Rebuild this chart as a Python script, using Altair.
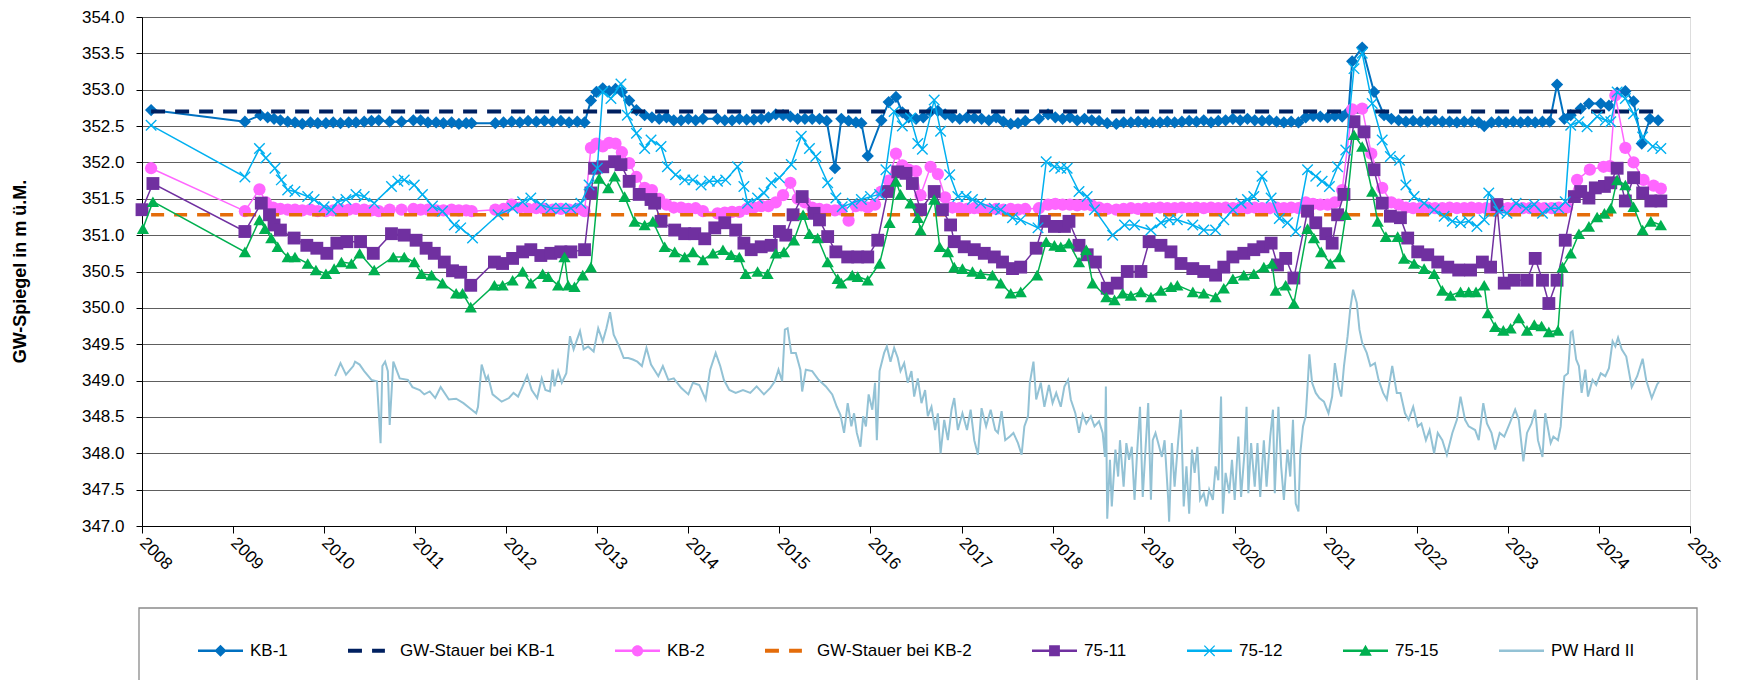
import altair as alt
import pandas as pd

# ---------------- data ----------------
SERIES_NAMES = ["KB-1", "GW-Stauer bei KB-1", "KB-2", "GW-Stauer bei KB-2",
                "75-11", "75-12", "75-15", "PW Hard II"]
SERIES_COLORS = ["#0070C0", "#002060", "#FF66FF", "#E46C0A",
                 "#7030A0", "#00B0F0", "#00B050", "#93C2D5"]
YEAR_TICKS = list(range(2008, 2026))
LEVEL_TICKS = [347.0, 347.5, 348.0, 348.5, 349.0, 349.5, 350.0, 350.5,
               351.0, 351.5, 352.0, 352.5, 353.0, 353.5, 354.0]

KB1_YEAR = [2008.10, 2009.13, 2009.30, 2009.38, 2009.45, 2009.52, 2009.60, 2009.68, 2009.76, 2009.85,
            2009.93, 2010.02, 2010.10, 2010.18, 2010.27, 2010.35, 2010.44, 2010.52, 2010.60, 2010.72,
            2010.85, 2010.98, 2011.06, 2011.14, 2011.23, 2011.31, 2011.40, 2011.48, 2011.56, 2011.62,
            2011.88, 2011.97, 2012.06, 2012.15, 2012.24, 2012.33, 2012.42, 2012.51, 2012.60, 2012.69,
            2012.78, 2012.86, 2012.93, 2012.99, 2013.06, 2013.13, 2013.20, 2013.27, 2013.35, 2013.43,
            2013.52, 2013.60, 2013.68, 2013.76, 2013.84, 2013.92, 2014.00, 2014.08, 2014.16, 2014.32,
            2014.40, 2014.48, 2014.56, 2014.64, 2014.72, 2014.80, 2014.88, 2014.96, 2015.04, 2015.12,
            2015.20, 2015.28, 2015.36, 2015.44, 2015.52, 2015.61, 2015.68, 2015.76, 2015.84, 2015.90,
            2015.97, 2016.12, 2016.20, 2016.28, 2016.35, 2016.42, 2016.50, 2016.58, 2016.66, 2016.74,
            2016.82, 2016.90, 2016.98, 2017.06, 2017.14, 2017.22, 2017.30, 2017.38, 2017.46, 2017.54,
            2017.62, 2017.70, 2017.85, 2017.95, 2018.03, 2018.11, 2018.19, 2018.27, 2018.35, 2018.43,
            2018.51, 2018.60, 2018.70, 2018.78, 2018.86, 2018.94, 2019.02, 2019.10, 2019.18, 2019.26,
            2019.34, 2019.42, 2019.50, 2019.58, 2019.66, 2019.74, 2019.82, 2019.90, 2019.98, 2020.06,
            2020.14, 2020.22, 2020.30, 2020.38, 2020.46, 2020.54, 2020.62, 2020.70, 2020.78, 2020.86,
            2020.94, 2021.02, 2021.10, 2021.18, 2021.25, 2021.29, 2021.40, 2021.53, 2021.64, 2021.72,
            2021.80, 2021.88, 2021.96, 2022.04, 2022.12, 2022.20, 2022.28, 2022.36, 2022.44, 2022.52,
            2022.60, 2022.68, 2022.74, 2022.82, 2022.90, 2022.98, 2023.06, 2023.14, 2023.22, 2023.30,
            2023.38, 2023.46, 2023.54, 2023.62, 2023.69, 2023.80, 2023.89, 2024.02, 2024.11, 2024.20,
            2024.29, 2024.38, 2024.47, 2024.56, 2024.65]
KB1_VAL = [352.72, 352.56, 352.65, 352.62, 352.60, 352.58, 352.56, 352.55, 352.53, 352.55,
           352.54, 352.54, 352.55, 352.54, 352.55, 352.55, 352.56, 352.57, 352.58, 352.56,
           352.56, 352.58, 352.58, 352.55, 352.55, 352.54, 352.55, 352.53, 352.54, 352.54,
           352.54, 352.55, 352.56, 352.55, 352.57, 352.56, 352.57, 352.56, 352.57, 352.55,
           352.56, 352.55, 352.85, 352.97, 353.02, 352.98, 353.01, 352.97, 352.85, 352.72,
           352.65, 352.62, 352.60, 352.62, 352.58, 352.58, 352.60, 352.58, 352.60, 352.60,
           352.58, 352.58, 352.60, 352.59, 352.59, 352.60, 352.62, 352.66, 352.65, 352.63,
           352.60, 352.60, 352.60, 352.60, 352.57, 351.92, 352.60, 352.57, 352.55, 352.54,
           352.09, 352.58, 352.83, 352.90, 352.69, 352.62, 352.60, 352.62, 352.70, 352.71,
           352.66, 352.62, 352.60, 352.62, 352.61, 352.60, 352.58, 352.62, 352.56, 352.53,
           352.54, 352.57, 352.60, 352.66, 352.62, 352.60, 352.62, 352.58, 352.60, 352.58,
           352.57, 352.54, 352.53, 352.55, 352.55, 352.56, 352.55, 352.55, 352.55, 352.56,
           352.55, 352.56, 352.57, 352.56, 352.58, 352.55, 352.57, 352.58, 352.60, 352.58,
           352.60, 352.58, 352.57, 352.58, 352.56, 352.55, 352.56, 352.55, 352.62, 352.64,
           352.63, 352.62, 352.64, 352.63, 352.70, 353.39, 353.58, 352.97, 352.65, 352.60,
           352.58, 352.56, 352.57, 352.56, 352.56, 352.57, 352.56, 352.56, 352.55, 352.56,
           352.56, 352.55, 352.50, 352.55, 352.56, 352.55, 352.56, 352.55, 352.56, 352.55,
           352.56, 352.56, 353.07, 352.60, 352.65, 352.74, 352.81, 352.81, 352.78, 352.96,
           352.98, 352.84, 352.26, 352.60, 352.58]

KB2_YEAR = [2008.10, 2009.13, 2009.29, 2009.36, 2009.44, 2009.52, 2009.60, 2009.68, 2009.76, 2009.85,
            2009.93, 2010.02, 2010.10, 2010.18, 2010.27, 2010.35, 2010.44, 2010.52, 2010.60, 2010.72,
            2010.85, 2010.98, 2011.06, 2011.14, 2011.23, 2011.31, 2011.40, 2011.48, 2011.56, 2011.62,
            2011.88, 2011.97, 2012.06, 2012.15, 2012.24, 2012.33, 2012.42, 2012.51, 2012.60, 2012.69,
            2012.78, 2012.86, 2012.93, 2012.99, 2013.06, 2013.13, 2013.20, 2013.27, 2013.35, 2013.43,
            2013.52, 2013.60, 2013.68, 2013.76, 2013.84, 2013.92, 2014.00, 2014.08, 2014.16, 2014.32,
            2014.40, 2014.48, 2014.56, 2014.64, 2014.72, 2014.80, 2014.88, 2014.96, 2015.04, 2015.12,
            2015.20, 2015.28, 2015.36, 2015.44, 2015.52, 2015.61, 2015.68, 2015.76, 2015.84, 2015.90,
            2015.97, 2016.05, 2016.12, 2016.20, 2016.28, 2016.35, 2016.42, 2016.50, 2016.55, 2016.66,
            2016.74, 2016.82, 2016.90, 2016.98, 2017.06, 2017.14, 2017.22, 2017.30, 2017.38, 2017.46,
            2017.54, 2017.62, 2017.70, 2017.85, 2017.95, 2018.03, 2018.11, 2018.19, 2018.27, 2018.35,
            2018.43, 2018.51, 2018.60, 2018.70, 2018.78, 2018.86, 2018.94, 2019.02, 2019.10, 2019.18,
            2019.26, 2019.34, 2019.42, 2019.50, 2019.58, 2019.66, 2019.74, 2019.82, 2019.90, 2019.98,
            2020.06, 2020.14, 2020.22, 2020.30, 2020.38, 2020.46, 2020.54, 2020.62, 2020.70, 2020.78,
            2020.86, 2020.94, 2021.02, 2021.10, 2021.18, 2021.29, 2021.40, 2021.50, 2021.62, 2021.72,
            2021.80, 2021.88, 2021.96, 2022.04, 2022.12, 2022.20, 2022.28, 2022.36, 2022.44, 2022.52,
            2022.60, 2022.68, 2022.76, 2022.84, 2022.92, 2023.00, 2023.08, 2023.16, 2023.24, 2023.32,
            2023.40, 2023.48, 2023.56, 2023.65, 2023.76, 2023.90, 2024.05, 2024.12, 2024.18, 2024.29,
            2024.38, 2024.49, 2024.60, 2024.68]
KB2_VAL = [351.92, 351.33, 351.63, 351.45, 351.38, 351.36, 351.35, 351.35, 351.34, 351.35,
           351.33, 351.33, 351.34, 351.35, 351.35, 351.36, 351.35, 351.34, 351.33, 351.35,
           351.35, 351.36, 351.35, 351.35, 351.34, 351.34, 351.35, 351.34, 351.34, 351.33,
           351.35, 351.36, 351.42, 351.38, 351.36, 351.37, 351.36, 351.35, 351.36, 351.35,
           351.36, 351.33, 352.20, 352.26, 352.22, 352.27, 352.26, 352.14, 351.99, 351.80,
           351.65, 351.62, 351.50, 351.42, 351.38, 351.38, 351.36, 351.37, 351.33, 351.30,
           351.31, 351.32, 351.32, 351.36, 351.38, 351.40, 351.40, 351.45, 351.55, 351.72,
           351.50, 351.45, 351.38, 351.36, 351.35, 351.34, 351.35, 351.20, 351.40, 351.41,
           351.38, 351.42, 351.60, 351.75, 352.12, 351.96, 351.90, 351.88, 351.55, 351.94,
           351.84, 351.52, 351.38, 351.37, 351.36, 351.37, 351.36, 351.35, 351.36, 351.35,
           351.36, 351.35, 351.36, 351.37, 351.42, 351.43, 351.42, 351.42, 351.41, 351.42,
           351.41, 351.38, 351.36, 351.35, 351.36, 351.37, 351.36, 351.37, 351.37, 351.38,
           351.37, 351.37, 351.38, 351.37, 351.38, 351.37, 351.38, 351.37, 351.38, 351.37,
           351.38, 351.37, 351.38, 351.37, 351.37, 351.38, 351.37, 351.38, 351.37, 351.45,
           351.43, 351.42, 351.42, 351.45, 351.62, 352.73, 352.74, 352.12, 351.65, 351.45,
           351.42, 351.38, 351.37, 351.37, 351.38, 351.37, 351.37, 351.38, 351.37, 351.37,
           351.38, 351.37, 351.37, 351.38, 351.37, 351.37, 351.38, 351.37, 351.37, 351.38,
           351.37, 351.37, 351.38, 351.38, 351.76, 351.90, 351.94, 351.95, 352.92, 352.20,
           352.00, 351.76, 351.68, 351.64]

S7511_YEAR = [2008.00, 2008.12, 2009.13, 2009.31, 2009.40, 2009.45, 2009.52, 2009.67, 2009.81, 2009.92,
              2010.03, 2010.14, 2010.25, 2010.40, 2010.54, 2010.74, 2010.88, 2011.01, 2011.12, 2011.21,
              2011.32, 2011.41, 2011.50, 2011.61, 2011.87, 2011.96, 2012.07, 2012.18, 2012.27, 2012.38,
              2012.49, 2012.60, 2012.71, 2012.86, 2012.93, 2012.97, 2013.06, 2013.19, 2013.26, 2013.35,
              2013.46, 2013.59, 2013.63, 2013.70, 2013.85, 2013.96, 2014.07, 2014.18, 2014.29, 2014.40,
              2014.52, 2014.61, 2014.69, 2014.80, 2014.91, 2015.00, 2015.07, 2015.15, 2015.25, 2015.38,
              2015.44, 2015.53, 2015.62, 2015.75, 2015.86, 2015.97, 2016.08, 2016.19, 2016.30, 2016.39,
              2016.46, 2016.55, 2016.70, 2016.79, 2016.88, 2016.92, 2017.03, 2017.14, 2017.25, 2017.36,
              2017.45, 2017.56, 2017.65, 2017.82, 2017.91, 2018.02, 2018.13, 2018.18, 2018.29, 2018.38,
              2018.47, 2018.60, 2018.71, 2018.82, 2018.97, 2019.06, 2019.19, 2019.30, 2019.41, 2019.54,
              2019.66, 2019.79, 2019.88, 2019.98, 2020.10, 2020.21, 2020.31, 2020.40, 2020.47, 2020.56,
              2020.65, 2020.80, 2020.89, 2021.00, 2021.07, 2021.13, 2021.20, 2021.31, 2021.42, 2021.53,
              2021.62, 2021.71, 2021.82, 2021.90, 2022.01, 2022.12, 2022.23, 2022.34, 2022.46, 2022.59,
              2022.72, 2022.81, 2022.88, 2022.96, 2023.07, 2023.21, 2023.30, 2023.38, 2023.45, 2023.54,
              2023.63, 2023.73, 2023.80, 2023.89, 2023.96, 2024.06, 2024.13, 2024.20, 2024.29, 2024.38,
              2024.48, 2024.57, 2024.68]
S7511_VAL = [351.35, 351.71, 351.05, 351.44, 351.28, 351.14, 351.07, 350.96, 350.86, 350.82,
             350.75, 350.89, 350.91, 350.91, 350.75, 351.02, 351.00, 350.93, 350.82, 350.75,
             350.63, 350.51, 350.49, 350.31, 350.63, 350.61, 350.68, 350.77, 350.80, 350.72,
             350.75, 350.77, 350.77, 350.80, 351.58, 351.92, 351.94, 352.01, 351.97, 351.74,
             351.56, 351.49, 351.44, 351.19, 351.07, 351.02, 351.02, 350.95, 351.10, 351.17,
             351.07, 350.89, 350.80, 350.84, 350.86, 351.05, 351.00, 351.28, 351.53, 351.30,
             351.21, 350.98, 350.77, 350.70, 350.70, 350.70, 350.93, 351.60, 351.87, 351.85,
             351.71, 351.35, 351.60, 351.35, 351.14, 350.91, 350.84, 350.80, 350.75, 350.70,
             350.63, 350.54, 350.56, 350.82, 351.19, 351.12, 351.12, 351.19, 350.86, 350.73,
             350.63, 350.27, 350.34, 350.50, 350.50, 350.91, 350.86, 350.77, 350.61, 350.54,
             350.50, 350.45, 350.56, 350.70, 350.75, 350.80, 350.84, 350.89, 350.59, 350.68,
             350.41, 351.33, 351.17, 351.02, 350.89, 351.28, 351.56, 352.56, 352.42, 351.90,
             351.44, 351.26, 351.24, 350.96, 350.77, 350.73, 350.63, 350.56, 350.52, 350.52,
             350.63, 350.56, 351.42, 350.34, 350.38, 350.38, 350.68, 350.38, 350.06, 350.38,
             350.93, 351.53, 351.60, 351.51, 351.65, 351.67, 351.72, 351.92, 351.47, 351.79,
             351.58, 351.47, 351.47]

S7512_YEAR = [2008.10, 2009.13, 2009.29, 2009.36, 2009.46, 2009.53, 2009.60, 2009.68, 2009.82, 2009.89,
              2010.00, 2010.08, 2010.15, 2010.24, 2010.35, 2010.44, 2010.55, 2010.74, 2010.81, 2010.88,
              2010.99, 2011.08, 2011.19, 2011.30, 2011.43, 2011.50, 2011.63, 2011.91, 2012.07, 2012.18,
              2012.27, 2012.38, 2012.49, 2012.60, 2012.71, 2012.82, 2012.91, 2013.00, 2013.06, 2013.15,
              2013.26, 2013.33, 2013.43, 2013.52, 2013.59, 2013.70, 2013.77, 2013.86, 2013.96, 2014.05,
              2014.14, 2014.23, 2014.32, 2014.41, 2014.54, 2014.61, 2014.65, 2014.76, 2014.83, 2014.91,
              2015.00, 2015.13, 2015.24, 2015.33, 2015.40, 2015.53, 2015.62, 2015.69, 2015.80, 2015.90,
              2016.00, 2016.10, 2016.17, 2016.26, 2016.35, 2016.44, 2016.52, 2016.57, 2016.70, 2016.77,
              2016.87, 2016.96, 2017.05, 2017.12, 2017.21, 2017.36, 2017.43, 2017.56, 2017.65, 2017.84,
              2017.93, 2018.02, 2018.09, 2018.16, 2018.29, 2018.38, 2018.46, 2018.66, 2018.79, 2018.90,
              2019.08, 2019.19, 2019.28, 2019.37, 2019.54, 2019.66, 2019.79, 2019.88, 2019.98, 2020.07,
              2020.14, 2020.21, 2020.30, 2020.40, 2020.49, 2020.58, 2020.67, 2020.80, 2020.89, 2020.96,
              2021.04, 2021.13, 2021.22, 2021.31, 2021.40, 2021.51, 2021.62, 2021.71, 2021.81, 2021.88,
              2021.97, 2022.08, 2022.19, 2022.30, 2022.39, 2022.48, 2022.57, 2022.66, 2022.74, 2022.79,
              2022.90, 2022.99, 2023.09, 2023.20, 2023.29, 2023.38, 2023.47, 2023.56, 2023.63, 2023.69,
              2023.78, 2023.87, 2023.98, 2024.07, 2024.13, 2024.20, 2024.29, 2024.38, 2024.48, 2024.59,
              2024.68]
S7512_VAL = [352.51, 351.80, 352.19, 352.06, 351.92, 351.76, 351.62, 351.60, 351.53, 351.49,
             351.39, 351.35, 351.46, 351.49, 351.56, 351.53, 351.44, 351.67, 351.74, 351.76,
             351.69, 351.56, 351.40, 351.33, 351.14, 351.10, 350.96, 351.28, 351.37, 351.46,
             351.51, 351.42, 351.37, 351.37, 351.37, 351.44, 351.69, 351.92, 352.97, 352.88,
             353.08, 352.65, 352.40, 352.19, 352.31, 352.22, 351.94, 351.83, 351.76, 351.76,
             351.69, 351.74, 351.74, 351.76, 351.94, 351.67, 351.44, 351.51, 351.58, 351.72,
             351.79, 351.97, 352.36, 352.19, 352.08, 351.72, 351.51, 351.39, 351.44, 351.49,
             351.53, 351.56, 351.90, 352.70, 352.50, 352.61, 352.26, 352.18, 352.86, 352.43,
             351.83, 351.53, 351.53, 351.49, 351.44, 351.37, 351.35, 351.24, 351.21, 351.10,
             352.01, 351.94, 351.92, 351.92, 351.60, 351.53, 351.35, 351.00, 351.14, 351.14,
             351.07, 351.17, 351.21, 351.21, 351.14, 351.07, 351.07, 351.21, 351.35, 351.44,
             351.49, 351.53, 351.81, 351.51, 351.23, 351.17, 351.05, 351.90, 351.81, 351.74,
             351.67, 351.94, 352.17, 353.29, 353.50, 352.81, 352.31, 352.08, 352.03, 351.69,
             351.53, 351.44, 351.35, 351.26, 351.19, 351.17, 351.19, 351.12, 351.21, 351.58,
             351.33, 351.30, 351.44, 351.37, 351.42, 351.30, 351.37, 351.37, 351.46, 352.51,
             352.56, 352.49, 352.63, 352.58, 352.56, 352.97, 352.88, 352.67, 352.35, 352.22,
             352.19]

S7515_YEAR = [2008.01, 2008.12, 2009.13, 2009.29, 2009.35, 2009.42, 2009.49, 2009.60, 2009.68, 2009.82,
              2009.91, 2010.02, 2010.11, 2010.19, 2010.30, 2010.39, 2010.55, 2010.76, 2010.88, 2010.99,
              2011.07, 2011.18, 2011.30, 2011.45, 2011.52, 2011.61, 2011.87, 2011.96, 2012.07, 2012.18,
              2012.27, 2012.40, 2012.46, 2012.57, 2012.64, 2012.68, 2012.75, 2012.84, 2012.93, 2013.02,
              2013.12, 2013.19, 2013.30, 2013.41, 2013.52, 2013.61, 2013.74, 2013.85, 2013.96, 2014.05,
              2014.16, 2014.27, 2014.38, 2014.47, 2014.56, 2014.63, 2014.76, 2014.87, 2014.96, 2015.05,
              2015.16, 2015.26, 2015.33, 2015.42, 2015.53, 2015.64, 2015.68, 2015.80, 2015.86, 2015.97,
              2016.10, 2016.21, 2016.28, 2016.33, 2016.44, 2016.52, 2016.55, 2016.70, 2016.76, 2016.85,
              2016.92, 2017.01, 2017.12, 2017.21, 2017.34, 2017.43, 2017.54, 2017.65, 2017.83, 2017.93,
              2018.02, 2018.09, 2018.18, 2018.29, 2018.37, 2018.44, 2018.59, 2018.68, 2018.77, 2018.86,
              2018.97, 2019.08, 2019.19, 2019.30, 2019.37, 2019.54, 2019.66, 2019.79, 2019.88, 2019.98,
              2020.10, 2020.21, 2020.32, 2020.41, 2020.45, 2020.56, 2020.65, 2020.80, 2020.87, 2020.95,
              2021.05, 2021.15, 2021.22, 2021.31, 2021.40, 2021.51, 2021.57, 2021.66, 2021.79, 2021.86,
              2021.97, 2022.08, 2022.19, 2022.28, 2022.37, 2022.48, 2022.57, 2022.65, 2022.74, 2022.78,
              2022.86, 2022.95, 2023.03, 2023.12, 2023.21, 2023.29, 2023.37, 2023.45, 2023.55, 2023.60,
              2023.69, 2023.78, 2023.89, 2023.98, 2024.06, 2024.13, 2024.20, 2024.29, 2024.38, 2024.48,
              2024.57, 2024.68]
S7515_VAL = [351.09, 351.46, 350.77, 351.21, 351.09, 350.96, 350.84, 350.70, 350.70, 350.61,
             350.52, 350.47, 350.54, 350.63, 350.61, 350.75, 350.52, 350.70, 350.70, 350.63,
             350.47, 350.45, 350.34, 350.20, 350.20, 350.01, 350.31, 350.31, 350.38, 350.50,
             350.34, 350.47, 350.43, 350.31, 350.70, 350.31, 350.29, 350.45, 350.56, 351.78,
             351.65, 351.81, 351.53, 351.19, 351.14, 351.19, 350.84, 350.77, 350.70, 350.77,
             350.66, 350.75, 350.80, 350.73, 350.70, 350.47, 350.50, 350.47, 350.75, 350.77,
             350.93, 351.28, 351.02, 350.96, 350.63, 350.40, 350.34, 350.45, 350.43, 350.38,
             350.61, 351.17, 351.74, 351.56, 351.44, 351.24, 351.07, 351.49, 350.84, 350.77,
             350.56, 350.54, 350.50, 350.47, 350.45, 350.34, 350.20, 350.22, 350.45, 350.91,
             350.86, 350.84, 350.89, 350.63, 350.80, 350.34, 350.15, 350.11, 350.20, 350.17,
             350.22, 350.15, 350.24, 350.29, 350.31, 350.22, 350.20, 350.15, 350.27, 350.40,
             350.45, 350.47, 350.56, 350.61, 350.24, 350.31, 350.06, 351.09, 350.96, 350.77,
             350.61, 350.70, 351.28, 352.38, 352.22, 351.60, 351.19, 350.98, 350.98, 350.68,
             350.61, 350.54, 350.47, 350.24, 350.17, 350.22, 350.22, 350.22, 350.31, 349.93,
             349.74, 349.69, 349.72, 349.86, 349.69, 349.77, 349.75, 349.67, 349.69, 350.56,
             350.75, 351.02, 351.12, 351.25, 351.30, 351.37, 351.76, 351.69, 351.39, 351.07,
             351.19, 351.14]

PW_YEAR = [2010.12, 2010.18, 2010.24, 2010.32, 2010.34, 2010.39, 2010.44, 2010.52, 2010.58, 2010.62,
           2010.64, 2010.67, 2010.70, 2010.72, 2010.76, 2010.83, 2010.92, 2010.97, 2011.05, 2011.10,
           2011.16, 2011.22, 2011.28, 2011.37, 2011.45, 2011.53, 2011.60, 2011.67, 2011.69, 2011.73,
           2011.78, 2011.80, 2011.85, 2011.95, 2012.03, 2012.08, 2012.13, 2012.18, 2012.23, 2012.28,
           2012.34, 2012.39, 2012.43, 2012.48, 2012.51, 2012.53, 2012.57, 2012.61, 2012.66, 2012.70,
           2012.74, 2012.81, 2012.85, 2012.90, 2012.96, 2013.01, 2013.06, 2013.10, 2013.14, 2013.18,
           2013.24, 2013.29, 2013.34, 2013.39, 2013.44, 2013.49, 2013.54, 2013.59, 2013.67, 2013.72,
           2013.78, 2013.84, 2013.92, 2014.00, 2014.05, 2014.12, 2014.19, 2014.24, 2014.30, 2014.35,
           2014.39, 2014.45, 2014.52, 2014.60, 2014.68, 2014.75, 2014.83, 2014.90, 2014.95, 2014.99,
           2015.03, 2015.06, 2015.09, 2015.13, 2015.18, 2015.23, 2015.25, 2015.29, 2015.36, 2015.43,
           2015.51, 2015.58, 2015.63, 2015.67, 2015.71, 2015.75, 2015.79, 2015.82, 2015.85, 2015.89,
           2015.92, 2015.95, 2015.98, 2016.02, 2016.05, 2016.07, 2016.10, 2016.15, 2016.18, 2016.22,
           2016.26, 2016.30, 2016.33, 2016.37, 2016.41, 2016.45, 2016.48, 2016.52, 2016.56, 2016.60,
           2016.63, 2016.67, 2016.71, 2016.74, 2016.77, 2016.81, 2016.85, 2016.89, 2016.92, 2016.96,
           2017.01, 2017.06, 2017.10, 2017.14, 2017.18, 2017.22, 2017.27, 2017.32, 2017.37, 2017.40,
           2017.44, 2017.48, 2017.53, 2017.57, 2017.62, 2017.66, 2017.69, 2017.73, 2017.75, 2017.79,
           2017.82, 2017.87, 2017.91, 2017.96, 2018.00, 2018.04, 2018.09, 2018.13, 2018.17, 2018.20,
           2018.25, 2018.29, 2018.33, 2018.37, 2018.42, 2018.46, 2018.51, 2018.55, 2018.575, 2018.585,
           2018.60, 2018.63, 2018.65, 2018.69, 2018.72, 2018.74, 2018.78, 2018.81, 2018.84, 2018.87,
           2018.90, 2018.93, 2018.96, 2018.99, 2019.02, 2019.05, 2019.08, 2019.10, 2019.13, 2019.16,
           2019.20, 2019.23, 2019.27, 2019.28, 2019.31, 2019.34, 2019.38, 2019.41, 2019.44, 2019.47,
           2019.50, 2019.53, 2019.56, 2019.59, 2019.62, 2019.66, 2019.69, 2019.72, 2019.76, 2019.79,
           2019.82, 2019.85, 2019.87, 2019.90, 2019.94, 2019.97, 2020.00, 2020.04, 2020.07, 2020.11,
           2020.13, 2020.15, 2020.18, 2020.22, 2020.25, 2020.28, 2020.32, 2020.35, 2020.39, 2020.42,
           2020.44, 2020.48, 2020.51, 2020.54, 2020.58, 2020.61, 2020.64, 2020.67, 2020.70, 2020.72,
           2020.75, 2020.78, 2020.80, 2020.82, 2020.85, 2020.89, 2020.93, 2020.98, 2021.03, 2021.07,
           2021.10, 2021.14, 2021.17, 2021.20, 2021.24, 2021.27, 2021.30, 2021.34, 2021.37, 2021.40,
           2021.45, 2021.49, 2021.54, 2021.58, 2021.63, 2021.67, 2021.73, 2021.78, 2021.82, 2021.87,
           2021.91, 2021.96, 2022.01, 2022.05, 2022.10, 2022.14, 2022.19, 2022.23, 2022.28, 2022.33,
           2022.39, 2022.44, 2022.48, 2022.53, 2022.57, 2022.64, 2022.68, 2022.73, 2022.77, 2022.82,
           2022.86, 2022.91, 2022.96, 2023.02, 2023.08, 2023.12, 2023.17, 2023.21, 2023.26, 2023.30,
           2023.33, 2023.38, 2023.41, 2023.47, 2023.50, 2023.55, 2023.58, 2023.60, 2023.62, 2023.66,
           2023.69, 2023.71, 2023.75, 2023.78, 2023.81, 2023.85, 2023.88, 2023.93, 2023.97, 2024.02,
           2024.07, 2024.11, 2024.15, 2024.18, 2024.21, 2024.25, 2024.30, 2024.36, 2024.42, 2024.48,
           2024.52, 2024.58, 2024.64, 2024.66]
PW_VAL = [349.06, 349.24, 349.08, 349.20, 349.26, 349.22, 349.13, 349.01, 348.99, 348.14,
          349.20, 349.26, 349.13, 348.39, 349.26, 349.03, 349.01, 348.91, 348.87, 348.81,
          348.85, 348.76, 348.91, 348.74, 348.75, 348.69, 348.62, 348.55, 348.64, 349.22,
          349.01, 349.06, 348.81, 348.71, 348.76, 348.83, 348.78, 348.92, 349.07, 348.87,
          348.76, 349.03, 348.87, 348.85, 349.15, 348.92, 349.13, 348.97, 349.10, 349.61,
          349.43, 349.68, 349.43, 349.47, 349.40, 349.72, 349.54, 349.72, 349.94, 349.63,
          349.47, 349.31, 349.31, 349.29, 349.26, 349.20, 349.45, 349.22, 349.06, 349.20,
          349.01, 349.03, 348.90, 348.81, 348.97, 348.94, 348.74, 349.15, 349.38, 349.20,
          349.01, 348.87, 348.83, 348.87, 348.83, 348.92, 348.81, 348.90, 348.99, 349.15,
          348.99, 349.70, 349.72, 349.38, 349.38, 349.15, 348.85, 349.15, 349.13, 349.01,
          348.92, 348.81, 348.64, 348.53, 348.28, 348.69, 348.37, 348.55, 348.28, 348.09,
          348.51, 348.37, 348.81, 348.60, 348.97, 348.18, 349.13, 349.38, 349.47, 349.26,
          349.45, 349.31, 349.13, 349.24, 348.97, 349.13, 348.78, 349.03, 348.69, 348.87,
          348.51, 348.64, 348.32, 348.55, 348.00, 348.46, 348.18, 348.60, 348.76, 348.32,
          348.55, 348.32, 348.60, 348.18, 347.98, 348.62, 348.37, 348.60, 348.32, 348.28,
          348.58, 348.18, 348.23, 348.28, 348.14, 347.98, 348.37, 348.51, 348.97, 349.26,
          348.74, 348.97, 348.64, 348.94, 348.69, 348.83, 348.64, 348.92, 349.01, 348.74,
          348.55, 348.28, 348.53, 348.41, 348.51, 348.37, 348.44, 348.28, 347.95, 348.92,
          347.10, 347.91, 347.27, 348.05, 347.68, 348.18, 347.54, 348.14, 347.91, 348.09,
          347.36, 348.05, 348.64, 347.40, 348.05, 348.69, 347.36, 348.18, 348.28, 348.14,
          347.95, 348.18, 347.36, 347.06, 348.14, 347.54, 348.18, 348.60, 347.27, 347.82,
          347.17, 348.05, 347.73, 348.09, 347.36, 347.45, 347.27, 347.50, 347.36, 347.82,
          347.63, 348.78, 347.17, 347.73, 347.45, 347.91, 347.36, 348.23, 347.40, 348.05,
          348.64, 347.45, 348.14, 347.54, 348.14, 347.40, 348.18, 347.54, 348.23, 348.60,
          347.45, 348.64, 347.82, 347.36, 348.05, 347.68, 348.46, 347.31, 347.20, 348.00,
          348.37, 348.51, 348.92, 349.36, 348.97, 348.83, 348.76, 348.71, 348.55, 348.78,
          349.24, 348.92, 348.78, 349.20, 349.61, 350.00, 350.25, 350.07, 349.70, 349.52,
          349.38, 349.20, 349.24, 349.01, 348.83, 348.74, 349.20, 348.83, 348.83, 348.55,
          348.46, 348.64, 348.37, 348.41, 348.18, 348.32, 348.00, 348.28, 348.18, 347.98,
          348.28, 348.46, 348.78, 348.46, 348.37, 348.32, 348.18, 348.69, 348.41, 348.28,
          348.05, 348.28, 348.23, 348.41, 348.60, 348.46, 347.89, 348.28, 348.41, 348.60,
          348.18, 347.95, 348.55, 348.14, 348.23, 348.18, 348.37, 348.74, 349.06, 349.10,
          349.66, 349.68, 349.29, 349.20, 348.83, 349.15, 348.78, 349.01, 348.94, 349.10,
          349.06, 349.17, 349.54, 349.47, 349.59, 349.43, 349.33, 348.91, 349.06, 349.30,
          349.00, 348.76, 348.95, 348.98]

GW_YEAR = [2008.10, 2024.68]
GW1_VAL = [352.70, 352.70]
GW2_VAL = [351.28, 351.28]

# ---------------- chart ----------------
FONT = "Liberation Sans"
W, H = 1548, 509

def frame(years, vals):
    return pd.DataFrame({"year": years, "value": vals})

x_enc = alt.X("year:Q", title=None,
              scale=alt.Scale(domain=[2008, 2025], nice=False, zero=False),
              axis=alt.Axis(values=YEAR_TICKS, format="d", labelAngle=45, labelAlign="left",
                            labelBaseline="middle", labelPadding=7, tickSize=7, tickColor="black",
                            domainColor="black", grid=False, labelFontSize=17, labelFont=FONT,
                            labelColor="black", labelOverlap=False, labelFlush=False))
y_enc = alt.Y("value:Q", title="GW-Spiegel in m ü.M.",
              scale=alt.Scale(domain=[347, 354], nice=False, zero=False),
              axis=alt.Axis(values=LEVEL_TICKS, format=".1f", tickSize=6, labelPadding=12,
                            tickColor="black", domainColor="black", grid=True,
                            gridColor="#5e5e5e", gridWidth=1, labelFontSize=17, labelFont=FONT,
                            labelColor="black", titleFont=FONT, titleFontSize=18,
                            titleFontWeight="bold", titleColor="black", titleX=-122, titleY=254,
                            titleAngle=270, titleAlign="center", titleBaseline="middle"))

def line_layer(df, color, width, dash=None):
    kw = dict(color=color, strokeWidth=width)
    if dash:
        kw["strokeDash"] = dash
    return alt.Chart(df).mark_line(**kw).encode(x=x_enc, y=y_enc)

def point_layer(df, color, shape, size, filled=True, sw=0.0):
    return alt.Chart(df).mark_point(shape=shape, size=size, filled=filled, color=color,
                                    opacity=1, strokeWidth=sw).encode(x=x_enc, y=y_enc)

kb1 = frame(KB1_YEAR, KB1_VAL)
kb2 = frame(KB2_YEAR, KB2_VAL)
s11 = frame(S7511_YEAR, S7511_VAL)
s12 = frame(S7512_YEAR, S7512_VAL)
s15 = frame(S7515_YEAR, S7515_VAL)
pw = frame(PW_YEAR, PW_VAL)
gw1 = frame(GW_YEAR, GW1_VAL)
gw2 = frame(GW_YEAR, GW2_VAL)

XPATH = "M-1,-1L1,1M-1,1L1,-1"

layers = [
    line_layer(kb1, SERIES_COLORS[0], 2),
    point_layer(kb1, SERIES_COLORS[0], "diamond", 150),
    line_layer(gw1, SERIES_COLORS[1], 4, [14, 10]),
    line_layer(kb2, SERIES_COLORS[2], 1.5),
    point_layer(kb2, SERIES_COLORS[2], "circle", 150),
    line_layer(gw2, SERIES_COLORS[3], 3.5, [13, 10]),
    line_layer(s11, SERIES_COLORS[4], 1.5),
    point_layer(s11, SERIES_COLORS[4], "square", 165),
    line_layer(s12, SERIES_COLORS[5], 1.5),
    point_layer(s12, SERIES_COLORS[5], XPATH, 110, filled=False, sw=1.4),
    line_layer(s15, SERIES_COLORS[6], 1.5),
    point_layer(s15, SERIES_COLORS[6], "triangle-up", 150),
    line_layer(pw, SERIES_COLORS[7], 2),
]

# legend symbols: a line sample with the marker, drawn as filled paths
LINE = "M-1,-0.055L1,-0.055L1,0.055L-1,0.055Z"
DASHES = "M-1,-0.09L-0.38,-0.09L-0.38,0.09L-1,0.09Z M0.07,-0.09L0.64,-0.09L0.64,0.09L0.07,0.09Z"
LEGEND_PATHS = [
    LINE + " M0,-0.27L0.27,0L0,0.27L-0.27,0Z",
    DASHES,
    LINE + " M-0.25,0A0.25,0.25,0,1,1,0.25,0A0.25,0.25,0,1,1,-0.25,0Z",
    DASHES,
    LINE + " M-0.24,-0.24L0.24,-0.24L0.24,0.24L-0.24,0.24Z",
    LINE + " M-0.25,-0.21L-0.21,-0.25L0.25,0.21L0.21,0.25Z M0.21,-0.25L0.25,-0.21L-0.21,0.25L-0.25,0.21Z",
    LINE + " M0,-0.27L0.28,0.22L-0.28,0.22Z",
    "M-1,-0.06L1,-0.06L1,0.06L-1,0.06Z",
]

legend_def = alt.Legend(title=None, orient="none", legendX=56, legendY=611, direction="horizontal",
                        columns=8, columnPadding=60, symbolSize=2025, symbolStrokeWidth=0,
                        labelFontSize=17, labelFont=FONT, labelColor="black", labelOffset=7,
                        labelLimit=400, padding=0)

legend_layer = alt.Chart(pd.DataFrame({"series": SERIES_NAMES})).transform_filter("false").mark_point(
    filled=True, size=2025, opacity=1, strokeWidth=0
).encode(
    color=alt.Color("series:N", scale=alt.Scale(domain=SERIES_NAMES, range=SERIES_COLORS), legend=legend_def),
    shape=alt.Shape("series:N", scale=alt.Scale(domain=SERIES_NAMES, range=LEGEND_PATHS), legend=legend_def),
)

legend_box = alt.Chart(pd.DataFrame({"k": [0]})).mark_rect(
    fill="white", fillOpacity=0, stroke="#8a8a8a", strokeWidth=1.3
).encode(x=alt.value(-3), x2=alt.value(1555), y=alt.value(591), y2=alt.value(720))

chart = alt.layer(legend_box, *layers, legend_layer).properties(
    width=W, height=H,
    autosize=alt.AutoSizeParams(type="none"),
    padding={"left": 134, "top": 9, "right": 38, "bottom": 154},
).configure_view(stroke="transparent").configure(font=FONT)

chart.save("out.html", embed_options={"renderer": "svg", "actions": False})
